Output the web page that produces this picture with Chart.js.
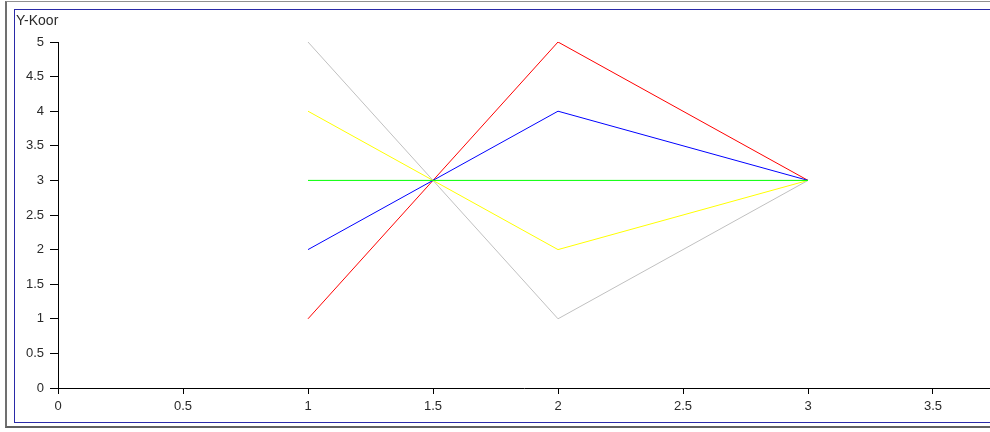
<!DOCTYPE html>
<html>
<head>
<meta charset="utf-8">
<script src="https://cdn.jsdelivr.net/npm/chart.js@4/dist/chart.umd.min.js"></script>
<style>
  html, body { margin: 0; padding: 0; background: #fff; width: 990px; height: 432px; overflow: hidden; }
  #outer { position: absolute; left: 5px; top: 1px; width: 1000px; height: 427px; border-left: 2px solid #707070; border-top: 1px solid #909090; border-bottom: 2px solid #606060; box-sizing: border-box; }
  #inner { position: absolute; left: 14px; top: 9px; width: 1000px; height: 414px; border: 1px solid #2a2aa8; border-right: none; box-sizing: border-box; }
  #ytitle { position: absolute; left: 16px; top: 12px; font: 14px "Liberation Sans", Arial, sans-serif; line-height: 16px; color: #2a2a2a; }
  canvas { position: absolute; left: 0; top: 0; }
</style>
</head>
<body>
<div id="outer"></div>
<div id="inner"></div>
<canvas id="c" width="990" height="432"></canvas>
<div id="ytitle">Y-Koor</div>
<script>
const xValues = [1, 1.5, 2, 3];
const greenValues = [3, 3, 3, 3];
const silverValues = [5, 3, 1, 3];
const yellowValues = [4, 3, 2, 3];
const blueValues = [2, 3, 4, 3];
const redValues = [1, 3, 5, 3];
const xTicks = [0, 0.5, 1, 1.5, 2, 2.5, 3, 3.5];
const yTicks = [0, 0.5, 1, 1.5, 2, 2.5, 3, 3.5, 4, 4.5, 5];

function pts(ys) { return xValues.map((x, i) => ({ x: x, y: ys[i] })); }
function ds(ys, color) {
  return { data: pts(ys), borderColor: color, backgroundColor: color, borderWidth: 1, pointRadius: 0, showLine: true, tension: 0, fill: false };
}

const font = { family: '"Liberation Sans", Arial, sans-serif', size: 13 };

new Chart(document.getElementById('c'), {
  type: 'scatter',
  data: {
    datasets: [
      ds(greenValues, '#00ff00'),
      ds(silverValues, '#c0c0c0'),
      ds(yellowValues, '#ffff00'),
      ds(blueValues, '#0000ff'),
      ds(redValues, '#ff0000')
    ]
  },
  options: {
    responsive: false,
    animation: false,
    devicePixelRatio: 1,
    layout: { padding: { top: 42, left: 0, right: 0, bottom: 0 } },
    plugins: { legend: { display: false }, tooltip: { enabled: false } },
    scales: {
      x: {
        type: 'linear',
        min: 0,
        max: 3.728,
        afterFit: s => { s.height = 44; },
        afterBuildTicks: s => { s.ticks = xTicks.map(v => ({ value: v })); },
        ticks: { font: font, color: '#2a2a2a', padding: 5, maxRotation: 0, autoSkip: false, callback: v => String(v) },
        grid: { display: true, drawOnChartArea: false, drawTicks: true, tickLength: 6, color: '#000' },
        border: { display: true, color: '#000', width: 1 }
      },
      y: {
        type: 'linear',
        min: 0,
        max: 5,
        afterFit: s => { s.width = 58; },
        afterBuildTicks: s => { s.ticks = yTicks.map(v => ({ value: v })); },
        ticks: { font: font, color: '#2a2a2a', padding: 6, autoSkip: false, callback: v => String(v) },
        grid: { display: true, drawOnChartArea: false, drawTicks: true, tickLength: 8, color: '#000' },
        border: { display: true, color: '#000', width: 1 }
      }
    }
  }
});
</script>
</body>
</html>
